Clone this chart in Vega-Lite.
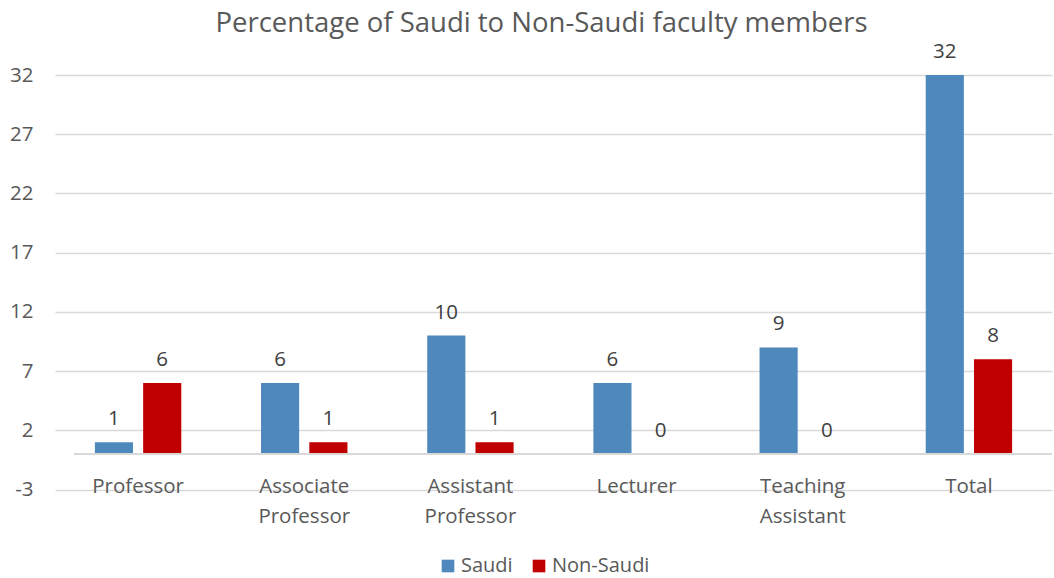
{
  "$schema": "https://vega.github.io/schema/vega-lite/v6.json",
  "autosize": {"type": "none"},
  "width": 997,
  "height": 414.5,
  "padding": {"left": 55, "top": 75, "right": 2, "bottom": 88.5},
  "background": "white",
  "title": {
    "text": "Percentage of Saudi to Non-Saudi faculty members",
    "font": "Open Sans",
    "fontSize": 27.5,
    "fontWeight": "normal",
    "color": "#595959",
    "anchor": "middle",
    "offset": 5,
    "dx": -12
  },
  "config": {
    "view": {"stroke": null},
    "font": "Open Sans"
  },
  "data": {
    "values": [
      {"category": "Professor", "series": "Saudi", "value": 1},
      {"category": "Professor", "series": "Non-Saudi", "value": 6},
      {"category": "Associate Professor", "series": "Saudi", "value": 6},
      {"category": "Associate Professor", "series": "Non-Saudi", "value": 1},
      {"category": "Assistant Professor", "series": "Saudi", "value": 10},
      {"category": "Assistant Professor", "series": "Non-Saudi", "value": 1},
      {"category": "Lecturer", "series": "Saudi", "value": 6},
      {"category": "Lecturer", "series": "Non-Saudi", "value": 0},
      {"category": "Teaching Assistant", "series": "Saudi", "value": 9},
      {"category": "Teaching Assistant", "series": "Non-Saudi", "value": 0},
      {"category": "Total", "series": "Saudi", "value": 32},
      {"category": "Total", "series": "Non-Saudi", "value": 8}
    ]
  },
  "encoding": {
    "x": {
      "field": "category",
      "type": "nominal",
      "sort": null,
      "scale": {"paddingInner": 0.48, "paddingOuter": 0.24},
      "axis": {
        "title": null,
        "domain": false,
        "ticks": false,
        "labelAngle": 0,
        "labelPadding": -13,
        "labelFontSize": 20.5,
        "labelColor": "#595959",
        "labelLineHeight": 30,
        "labelExpr": "split(datum.label, ' ')"
      }
    },
    "xOffset": {
      "field": "series",
      "type": "nominal",
      "sort": ["Saudi", "Non-Saudi"],
      "scale": {"paddingInner": 0.21, "paddingOuter": 0}
    }
  },
  "layer": [
    {
      "mark": {"type": "bar"},
      "encoding": {
        "y": {
          "field": "value",
          "type": "quantitative",
          "scale": {"domain": [-3, 32], "nice": false, "zero": false},
          "axis": {
            "title": null,
            "values": [-3, 2, 7, 12, 17, 22, 27, 32],
            "labelExpr": "'' + datum.value",
            "domain": false,
            "ticks": false,
            "grid": true,
            "gridColor": "#d9d9d9",
            "gridWidth": 1.5,
            "labelFontSize": 20.5,
            "labelColor": "#595959",
            "labelPadding": 22
          }
        },
        "y2": {"datum": 0},
        "color": {
          "field": "series",
          "type": "nominal",
          "sort": ["Saudi", "Non-Saudi"],
          "scale": {"domain": ["Saudi", "Non-Saudi"], "range": ["#4f88bd", "#c00000"]},
          "legend": {
            "title": null,
            "orient": "none",
            "direction": "horizontal",
            "legendX": 383,
            "legendY": 481,
            "symbolType": "square",
            "symbolSize": 160,
            "symbolStrokeWidth": 0,
            "labelFontSize": 20,
            "labelColor": "#595959",
            "columnPadding": 16,
            "labelOffset": 3
          }
        }
      }
    },
    {
      "mark": {"type": "text", "baseline": "bottom", "dy": -13, "fontSize": 20.5, "color": "#404040"},
      "encoding": {
        "y": {"field": "value", "type": "quantitative"},
        "text": {"field": "value", "type": "quantitative"}
      }
    },
    {
      "mark": {"type": "rule", "color": "#d9d9d9", "strokeWidth": 1.5},
      "encoding": {
        "y": {"datum": 0},
        "x": {"value": 0},
        "x2": {"value": 997}
      }
    }
  ]
}
